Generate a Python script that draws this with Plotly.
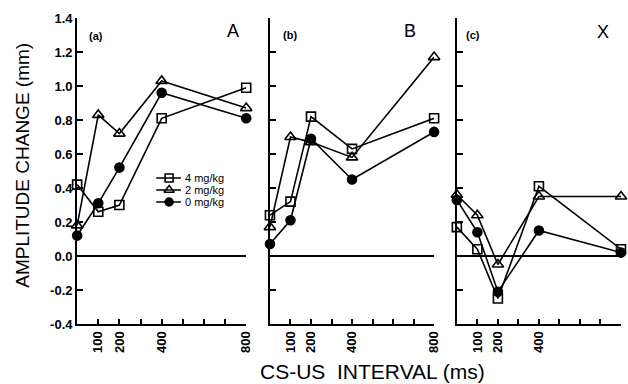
import plotly.graph_objects as go

# ---- data ----
intervals = [0, 100, 200, 400, 800]
series_names = ["4 mg/kg", "2 mg/kg", "0 mg/kg"]

a_4mg = [0.42, 0.26, 0.30, 0.81, 0.99]
a_2mg = [0.18, 0.83, 0.72, 1.03, 0.87]
a_0mg = [0.12, 0.31, 0.52, 0.96, 0.81]

b_4mg = [0.24, 0.32, 0.82, 0.63, 0.81]
b_2mg = [0.17, 0.70, 0.67, 0.58, 1.17]
b_0mg = [0.07, 0.21, 0.69, 0.45, 0.73]

c_4mg = [0.17, 0.04, -0.25, 0.41, 0.04]
c_2mg = [0.36, 0.24, -0.05, 0.35, 0.35]
c_0mg = [0.33, 0.14, -0.21, 0.15, 0.02]

x_tickvals = [100, 200, 300, 400, 500, 600, 700, 800]
x_ticktext = ["100", "200", "", "400", "", "", "", "800"]
y_tickvals = [-0.4, -0.2, 0.0, 0.2, 0.4, 0.6, 0.8, 1.0, 1.2, 1.4]
y_ticktext = ["-0.4", "-0.2", "0.0", "0.2", "0.4", "0.6", "0.8", "1.0", "1.2", "1.4"]

panel_tags = ["(a)", "(b)", "(c)"]
panel_letters = ["A", "B", "X"]

# ---- layout constants (pixels) ----
W, H = 628, 384
TOP, BOT = 18, 324
FONT = "Liberation Sans, Arial, Helvetica, sans-serif"

def px_x(p):
    return p / W

def px_y(p):
    return (BOT - p) / (BOT - TOP)

domains = [[px_x(78), px_x(249)], [px_x(273), px_x(439)], [px_x(462), 1.0]]

styles = [
    dict(symbol="square-open", size=9),
    dict(symbol="triangle-up-open", size=10),
    dict(symbol="circle", size=9),
]

panels = [(a_4mg, a_2mg, a_0mg), (b_4mg, b_2mg, b_0mg), (c_4mg, c_2mg, c_0mg)]

fig = go.Figure()

for i, vals in enumerate(panels):
    xa = "x" if i == 0 else f"x{i+1}"
    ya = "y" if i == 0 else f"y{i+1}"
    for name, v, st in zip(series_names, vals, styles):
        fig.add_trace(go.Scatter(
            x=intervals, y=v, mode="lines+markers", name=name,
            xaxis=xa, yaxis=ya, showlegend=False, cliponaxis=False,
            line=dict(color="black", width=1.6),
            marker=dict(symbol=st["symbol"], size=st["size"], color="black",
                        line=dict(color="black", width=1.6)),
        ))

# legend key (drawn on an invisible pixel-space overlay axis)
leg_rows = [178, 190, 202]
leg_line_x = [158, 171, 183]
for name, st, row in zip(series_names, styles, leg_rows):
    fig.add_trace(go.Scatter(
        x=[leg_line_x[0], leg_line_x[2]], y=[-row, -row], mode="lines",
        xaxis="x4", yaxis="y4", showlegend=False, hoverinfo="skip",
        line=dict(color="black", width=1.5)))
    fig.add_trace(go.Scatter(
        x=[leg_line_x[1]], y=[-row], mode="markers",
        xaxis="x4", yaxis="y4", showlegend=False, hoverinfo="skip",
        marker=dict(symbol=st["symbol"], size=st["size"] - 1, color="black",
                    line=dict(color="black", width=1.5))))

layout = dict(
    width=W, height=H,
    margin=dict(l=0, r=0, t=TOP, b=H - BOT, pad=0),
    paper_bgcolor="white", plot_bgcolor="rgba(0,0,0,0)",
    font=dict(family=FONT, color="black"),
    showlegend=False,
)

for i in range(3):
    xk = "xaxis" if i == 0 else f"xaxis{i+1}"
    yk = "yaxis" if i == 0 else f"yaxis{i+1}"
    ya = "y" if i == 0 else f"y{i+1}"
    xa = "x" if i == 0 else f"x{i+1}"
    layout[xk] = dict(
        domain=domains[i], range=[0, 800], anchor=ya,
        showgrid=False, zeroline=False, showline=True,
        linecolor="black", linewidth=2,
        ticks="inside", ticklen=5, tickwidth=1.5, tickcolor="black",
        tickmode="array", tickvals=x_tickvals, ticktext=x_ticktext,
        tickangle=-90, tickfont=dict(family=FONT, size=13, weight="bold"),
    )
    yax = dict(
        domain=[0, 1], range=[-0.4, 1.4], anchor=xa,
        showgrid=False, zeroline=True, zerolinecolor="black", zerolinewidth=1.6,
        showline=True, linecolor="black", linewidth=2,
        ticks="inside", ticklen=6, tickwidth=1.5, tickcolor="black",
        tickmode="array", tickvals=y_tickvals,
        tickfont=dict(family=FONT, size=13, weight="bold"),
    )
    if i == 0:
        yax["ticktext"] = y_ticktext
        yax["ticksuffix"] = "   "
    else:
        yax["showticklabels"] = False
    layout[yk] = yax

layout["xaxis4"] = dict(domain=[0, 1], range=[0, W], anchor="y4", visible=False,
                        fixedrange=True)
layout["yaxis4"] = dict(domain=[0, 1], range=[-BOT, -TOP], anchor="x4", visible=False,
                        fixedrange=True)

annotations = []
tag_pos = [(97, 36), (293, 35), (478, 35)]
letter_pos = [(236, 31), (415, 31), (610, 32)]
for t, (x, y) in zip(panel_tags, tag_pos):
    annotations.append(dict(text=t, x=px_x(x), y=px_y(y), xref="paper", yref="paper",
                            showarrow=False, xanchor="center", yanchor="middle",
                            font=dict(family=FONT, size=11, weight="bold")))
for t, (x, y) in zip(panel_letters, letter_pos):
    annotations.append(dict(text=t, x=px_x(x), y=px_y(y), xref="paper", yref="paper",
                            showarrow=False, xanchor="center", yanchor="middle",
                            font=dict(family=FONT, size=18)))
for name, row in zip(series_names, leg_rows):
    annotations.append(dict(text=name, x=px_x(185), y=px_y(row), xref="paper", yref="paper",
                            showarrow=False, xanchor="left", yanchor="middle",
                            font=dict(family=FONT, size=11)))
annotations.append(dict(text="AMPLITUDE CHANGE (mm)", x=px_x(22), y=px_y(165),
                        xref="paper", yref="paper", showarrow=False, textangle=-90,
                        xanchor="center", yanchor="middle",
                        font=dict(family=FONT, size=19)))
annotations.append(dict(text="CS-US  INTERVAL (ms)", x=px_x(377), y=px_y(372),
                        xref="paper", yref="paper", showarrow=False,
                        xanchor="center", yanchor="middle",
                        font=dict(family=FONT, size=21)))
layout["annotations"] = annotations

fig.update_layout(**layout)
fig.write_html("out.html")
